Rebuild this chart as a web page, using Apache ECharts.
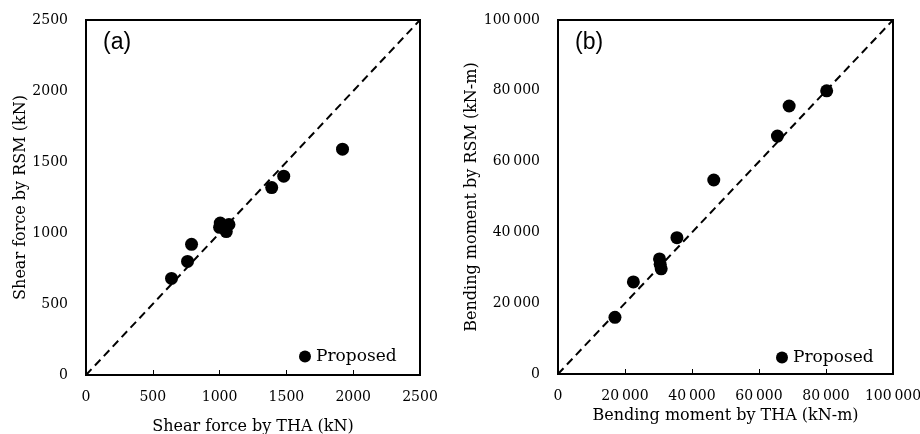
<!DOCTYPE html>
<html>
<head>
<meta charset="utf-8">
<script src="https://cdn.jsdelivr.net/npm/echarts@6/dist/echarts.min.js"></script>
<style>
  html, body { margin: 0; padding: 0; background: #fff; }
  #chart { width: 920px; height: 434px; }
</style>
</head>
<body>
<div id="chart"></div>
<script>
// (a) shear force, kN: [THA, RSM]
const shearPoints = [
  [640, 680], [760, 800], [790, 920], [1000, 1040], [1005, 1070],
  [1050, 1010], [1070, 1060], [1390, 1320], [1480, 1400], [1920, 1590]
];
// (b) bending moment, kN-m: [THA, RSM]
const momentPoints = [
  [17000, 16000], [22500, 26000], [30300, 32500], [30500, 31000], [30800, 29700],
  [35500, 38500], [46500, 54800], [65500, 67200], [69000, 75700], [80200, 80000]
];
const shearMax = 2500, shearStep = 500;
const momentMax = 100000, momentStep = 20000;

const serif = '"DejaVu Serif", "Liberation Serif", serif';
const black = '#000';

const fmtPlain = v => String(v);
const fmtThousands = v => v >= 10000 ? String(v).replace(/\B(?=(\d{3})+(?!\d))/g, '\u2009') : String(v);

function makeAxis(gridIndex, max, step, name, gap, isY, fmt) {
  return {
    type: 'value', gridIndex, min: 0, max, interval: step,
    name, nameLocation: 'middle', nameGap: gap,
    nameTextStyle: { fontFamily: serif, fontSize: 16, color: black },
    axisLine: { show: true, onZero: false, lineStyle: { color: black, width: 2 } },
    axisTick: { show: !isY, inside: true, length: 5, lineStyle: { color: black } },
    axisLabel: { fontFamily: serif, fontSize: 14, color: black, margin: isY ? 18 : 15, formatter: fmt },
    splitLine: { show: false }
  };
}

const chart = echarts.init(document.getElementById('chart'));
chart.setOption({
  animation: false,
  grid: [
    { left: 86, top: 20, width: 334, height: 355, show: true, borderColor: black, borderWidth: 2, outerBoundsMode: 'none' },
    { left: 558, top: 20, width: 335, height: 354, show: true, borderColor: black, borderWidth: 2, outerBoundsMode: 'none' }
  ],
  xAxis: [
    makeAxis(0, shearMax, shearStep, 'Shear force by THA (kN)', 44, false, fmtPlain),
    makeAxis(1, momentMax, momentStep, 'Bending moment by THA (kN-m)', 32, false, fmtThousands)
  ],
  yAxis: [
    makeAxis(0, shearMax, shearStep, 'Shear force by RSM (kN)', 54, true, fmtPlain),
    makeAxis(1, momentMax, momentStep, 'Bending moment by RSM (kN-m)', 64, true, fmtThousands)
  ],
  legend: [
    { data: ['Proposed'], left: 294, top: 343, icon: 'circle', itemWidth: 12, itemHeight: 12, itemGap: 4,
      textStyle: { fontFamily: serif, fontSize: 17, color: black } },
    { data: ['Proposed'], left: 771, top: 344, icon: 'circle', itemWidth: 12, itemHeight: 12, itemGap: 4,
      textStyle: { fontFamily: serif, fontSize: 17, color: black } }
  ],
  graphic: [
    { type: 'text', left: 103, top: 31, style: { text: '(a)', fontFamily: '"Liberation Sans", Arial, sans-serif', fontSize: 23, fill: black } },
    { type: 'text', left: 575, top: 31, style: { text: '(b)', fontFamily: '"Liberation Sans", Arial, sans-serif', fontSize: 23, fill: black } }
  ],
  series: [
    { type: 'line', name: 'equal', xAxisIndex: 0, yAxisIndex: 0, data: [[0, 0], [shearMax, shearMax]],
      symbol: 'none', lineStyle: { color: black, width: 2, type: [8, 5] }, z: 1 },
    { type: 'scatter', name: 'Proposed', xAxisIndex: 0, yAxisIndex: 0, data: shearPoints,
      symbolSize: 13, itemStyle: { color: black, opacity: 1 }, z: 3 },
    { type: 'line', name: 'equal', xAxisIndex: 1, yAxisIndex: 1, data: [[0, 0], [momentMax, momentMax]],
      symbol: 'none', lineStyle: { color: black, width: 2, type: [8, 5] }, z: 1 },
    { type: 'scatter', name: 'Proposed', xAxisIndex: 1, yAxisIndex: 1, data: momentPoints,
      symbolSize: 13, itemStyle: { color: black, opacity: 1 }, z: 3 }
  ]
});
</script>
</body>
</html>
